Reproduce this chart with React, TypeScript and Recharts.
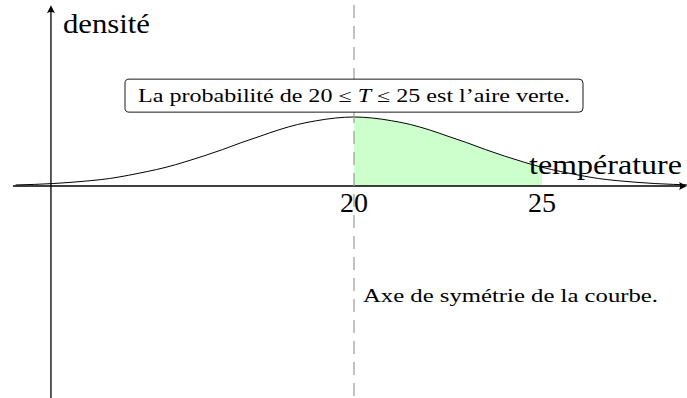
import React from 'react';
import { ComposedChart, Line, Area, XAxis, YAxis, ReferenceLine, ReferenceDot } from 'recharts';

// temperature grid and the density
const temperatures = [
  11, 11.5, 12, 12.5, 13, 13.5, 14, 14.5, 15, 15.5, 16, 16.5, 17, 17.5, 18, 18.5, 19, 19.5,
  20, 20.5, 21, 21.5, 22, 22.5, 23, 23.5, 24, 24.5, 25, 25.5, 26, 26.5, 27, 27.5, 28, 28.5, 29,
];
const densities = [
  0.0019, 0.003, 0.0046, 0.007, 0.01, 0.014, 0.02, 0.027, 0.035, 0.045, 0.056, 0.068, 0.081, 0.093, 0.105, 0.115, 0.122, 0.127,
  0.129, 0.127, 0.122, 0.115, 0.105, 0.093, 0.081, 0.068, 0.056, 0.045, 0.035, 0.027, 0.02, 0.014, 0.01, 0.007, 0.0046, 0.003, 0.0019,
];
const greenFrom = 20;
const greenTo = 25;
const tickLabels = [20, 25];
const xAxisTitle = 'température';
const yAxisTitle = 'densité';
const boxTextParts = ['La probabilité de 20 ≤ ', 'T', ' ≤ 25 est l’aire verte.'];
const symmetryText = 'Axe de symétrie de la courbe.';
const symmetryAt = 20;

const data = temperatures.map((t, i) => ({
  t,
  d: densities[i],
  green: t >= greenFrom && t <= greenTo ? densities[i] : null,
}));

const W = 687;
const H = 398;
const X_DOMAIN: [number, number] = [10.585, 28.856];
const Y_DOMAIN: [number, number] = [-0.3963, 0.3477];
const Y_AXIS_AT = 11.94;
const X_AXIS_START = 10.93;
const Y_AXIS_TOP = 0.338;
const FONT = '"Liberation Serif", "DejaVu Serif", serif';

const HArrowLine = (p: any) => {
  const { x1, y1, x2, y2 } = p;
  return (
    <g>
      <line x1={x1} y1={y1} x2={x2 - 3} y2={y2} stroke="#000" strokeWidth={1.3} />
      <path d={`M${x2},${y2} L${x2 - 8},${y2 - 4} Q${x2 - 5.5},${y2} ${x2 - 8},${y2 + 4} Z`} fill="#000" />
    </g>
  );
};

const VArrowLine = (p: any) => {
  const { x1, y1, x2, y2 } = p;
  const top = Math.min(y1, y2);
  const bottom = Math.max(y1, y2);
  return (
    <g>
      <line x1={x1} y1={bottom} x2={x1} y2={top + 3} stroke="#000" strokeWidth={1.3} />
      <path d={`M${x1},${top} L${x1 - 4},${top + 8} Q${x1},${top + 5.5} ${x1 + 4},${top + 8} Z`} fill="#000" />
    </g>
  );
};

const DashedVertical = (p: any) => {
  const { x1, y1, y2 } = p;
  const top = Math.min(y1, y2);
  const bottom = Math.max(y1, y2);
  return (
    <line x1={x1} y1={top} x2={x1} y2={bottom} stroke="#9a9a9a" strokeWidth={1.2} strokeDasharray="13 8" strokeDashoffset={16} />
  );
};

export default function App() {
  return (
    <div style={{ position: 'absolute', left: 0, top: 0, width: W, height: H }}>
      <ComposedChart width={W} height={H} data={data} margin={{ top: 0, right: 0, bottom: 0, left: 0 }}>
        <XAxis dataKey="t" type="number" domain={X_DOMAIN} allowDataOverflow hide />
        <YAxis type="number" domain={Y_DOMAIN} allowDataOverflow hide />
        <Area
          dataKey="green"
          type="monotone"
          stroke="none"
          fill="#ccffcc"
          fillOpacity={1}
          baseValue={0}
          isAnimationActive={false}
          connectNulls={false}
          dot={false}
          activeDot={false}
        />
        <ReferenceLine
          segment={[{ x: X_AXIS_START, y: 0 }, { x: X_DOMAIN[1], y: 0 }]}
          ifOverflow="visible"
          shape={HArrowLine}
        />
        <ReferenceLine
          segment={[{ x: Y_AXIS_AT, y: Y_DOMAIN[0] }, { x: Y_AXIS_AT, y: Y_AXIS_TOP }]}
          ifOverflow="visible"
          shape={VArrowLine}
        />
        <Line
          dataKey="d"
          type="monotone"
          stroke="#000"
          strokeWidth={1}
          dot={false}
          activeDot={false}
          isAnimationActive={false}
        />
        <ReferenceLine x={symmetryAt} ifOverflow="visible" shape={DashedVertical} />
        {tickLabels.map((v) => (
          <ReferenceDot
            key={v}
            x={v}
            y={0}
            r={0}
            ifOverflow="visible"
            shape={(p: any) => (
              <text x={p.cx} y={p.cy + 26} textAnchor="middle" fontFamily={FONT} fontSize={28} fill="#000">
                {v}
              </text>
            )}
          />
        ))}
        <ReferenceDot
          x={X_DOMAIN[1]}
          y={0}
          r={0}
          ifOverflow="visible"
          shape={(p: any) => (
            <text x={p.cx - 158} y={p.cy - 12} textLength={153} lengthAdjust="spacingAndGlyphs" fontFamily={FONT} fontSize={28} fill="#000">
              {xAxisTitle}
            </text>
          )}
        />
        <ReferenceDot
          x={Y_AXIS_AT}
          y={Y_AXIS_TOP}
          r={0}
          ifOverflow="visible"
          shape={(p: any) => (
            <text x={p.cx + 12} y={p.cy + 28} textLength={87} lengthAdjust="spacingAndGlyphs" fontFamily={FONT} fontSize={28} fill="#000">
              {yAxisTitle}
            </text>
          )}
        />
        <ReferenceDot
          x={symmetryAt}
          y={0.168}
          r={0}
          ifOverflow="visible"
          shape={(p: any) => (
            <g>
              <rect x={p.cx - 229} y={p.cy - 17} width={458} height={33} rx={4} ry={4} fill="#fff" stroke="#000" strokeWidth={0.9} />
              <text x={p.cx - 216} y={p.cy + 6} textLength={432} lengthAdjust="spacingAndGlyphs" fontFamily={FONT} fontSize={18} fill="#000">
                {boxTextParts[0]}
                <tspan fontStyle="italic">{boxTextParts[1]}</tspan>
                {boxTextParts[2]}
              </text>
            </g>
          )}
        />
        <ReferenceDot
          x={symmetryAt}
          y={-0.2169}
          r={0}
          ifOverflow="visible"
          shape={(p: any) => (
            <text x={p.cx + 9} y={p.cy} textLength={295} lengthAdjust="spacingAndGlyphs" fontFamily={FONT} fontSize={18} fill="#000">
              {symmetryText}
            </text>
          )}
        />
      </ComposedChart>
    </div>
  );
}
